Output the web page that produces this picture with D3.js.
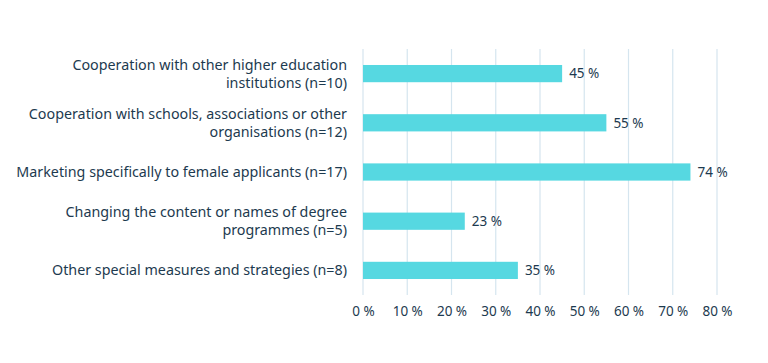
<!DOCTYPE html>
<html><head><meta charset="utf-8">
<script src="https://cdn.jsdelivr.net/npm/d3@7"></script>
<style>body{margin:0;background:#fff}svg{display:block}text{font-family:"Noto Sans","Open Sans",sans-serif}</style>
</head><body>
<svg id="c" width="768" height="363"></svg>
<script>
const categories = [
  ["Cooperation with other higher education", "institutions (n=10)"],
  ["Cooperation with schools, associations or other", "organisations (n=12)"],
  ["Marketing specifically to female applicants (n=17)"],
  ["Changing the content or names of degree", "programmes (n=5)"],
  ["Other special measures and strategies (n=8)"]
];
const values = [45, 55, 74, 23, 35];
const tickValues = [0, 10, 20, 30, 40, 50, 60, 70, 80];

const svg = d3.select("#c");
const m = {left: 363, right: 51, top: 49, bottom: 68};
const W = 768, H = 363;
const x = d3.scaleLinear().domain([0, 80]).range([m.left, W - m.right]);
const y = d3.scaleBand().domain(d3.range(values.length)).range([m.top, H - m.bottom]).paddingInner(0.65).paddingOuter(0.325);
const txt = "#1d3a4f";

// gridlines
svg.append("g").selectAll("line").data(tickValues).join("line")
  .attr("x1", d => x(d)).attr("x2", d => x(d))
  .attr("y1", m.top).attr("y2", H - m.bottom)
  .attr("stroke", "#d5e5ef").attr("stroke-width", 1.2);

// axis labels
const ax = svg.append("g").attr("transform", `translate(0,${H - m.bottom})`)
  .call(d3.axisBottom(x).tickValues(tickValues).tickSize(0).tickPadding(11).tickFormat(d => d + " %"));
ax.select(".domain").remove();
ax.selectAll("text").attr("fill", txt).style("font-size", "13.5px").attr("font-family", '"Noto Sans","Open Sans",sans-serif');

// bars
svg.append("g").selectAll("rect").data(values).join("rect")
  .attr("x", x(0)).attr("y", (d, i) => y(i))
  .attr("width", d => x(d) - x(0)).attr("height", y.bandwidth())
  .attr("fill", "#56d8e1");

// value labels
svg.append("g").selectAll("text").data(values).join("text")
  .attr("x", d => x(d) + 7).attr("y", (d, i) => y(i) + y.bandwidth() / 2)
  .attr("dy", "0.35em").attr("fill", txt).style("font-size", "13.5px")
  .text(d => d + " %");

// category labels
const cl = svg.append("g").selectAll("text").data(categories).join("text")
  .attr("text-anchor", "end").attr("fill", txt).style("font-size", "14.3px")
  .attr("transform", (d, i) => `translate(347,${y(i) + y.bandwidth() / 2})`);
cl.each(function(lines) {
  const t = d3.select(this);
  const lh = 18;
  const off = -(lines.length - 1) * lh / 2;
  lines.forEach((s, k) => {
    t.append("tspan").attr("x", 0).attr("y", off + k * lh).attr("dy", "0.35em").text(s);
  });
});
</script>
</body></html>
